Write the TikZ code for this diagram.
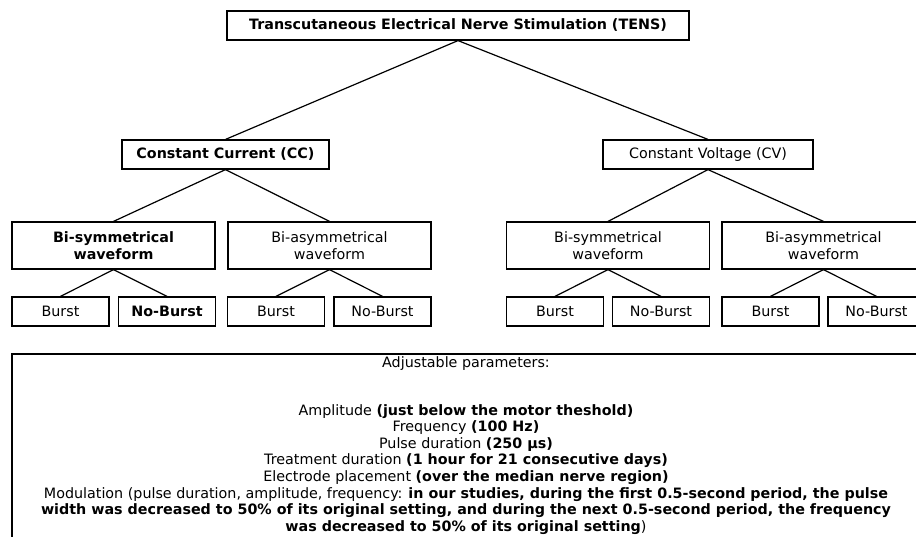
\documentclass[tikz,border=0pt]{standalone}
\usepackage{fontspec}
\setmainfont{DejaVu Sans}
\newcommand{\fsz}{\fontsize{14.3}{16.6}\selectfont}
\begin{document}
\begin{tikzpicture}[x=1pt,y=-1pt,
  box/.style={draw,line width=1.2pt,rectangle,inner sep=0pt,align=center,
    font=\fsz},
  onebox/.style={box,minimum height=29pt},
  wave/.style={box,minimum height=47pt,minimum width=203pt},
  leaf/.style={box,minimum height=29pt,minimum width=97pt},
  link/.style={line width=1.2pt}]
\useasboundingbox (0,0) rectangle (916,536);
\clip (0,0) rectangle (916,536);
% top
\node[onebox,minimum width=462pt,font=\fsz\bfseries] (tens) at (458,25.5) {Transcutaneous Electrical Nerve Stimulation (TENS)};
\node[onebox,minimum width=207pt,font=\fsz\bfseries] (cc) at (225.5,154.5) {Constant Current (CC)};
\node[onebox,minimum width=210pt] (cv) at (708,154.5) {Constant Voltage (CV)};
% waveforms
\node[wave,font=\fsz\bfseries] (ccs) at (113.5,245.5) {Bi-symmetrical\\waveform};
\node[wave] (cca) at (329.5,245.5) {Bi-asymmetrical\\waveform};
\node[wave] (cvs) at (608,245.5) {Bi-symmetrical\\waveform};
\node[wave] (cva) at (823.5,245.5) {Bi-asymmetrical\\waveform};
% leaves
\node[leaf] (ccsb) at (60.5,311.5) {Burst};
\node[leaf,font=\fsz\bfseries] (ccsn) at (167,311.5) {No-Burst};
\node[leaf] (ccab) at (276,311.5) {Burst};
\node[leaf] (ccan) at (382.5,311.5) {No-Burst};
\node[leaf] (cvsb) at (555,311.5) {Burst};
\node[leaf] (cvsn) at (661,311.5) {No-Burst};
\node[leaf] (cvab) at (770.5,311.5) {Burst};
\node[leaf] (cvan) at (876.5,311.5) {No-Burst};
% links
\draw[link] (tens.south) -- (cc.north);
\draw[link] (tens.south) -- (cv.north);
\draw[link] (cc.south) -- (ccs.north);
\draw[link] (cc.south) -- (cca.north);
\draw[link] (cv.south) -- (cvs.north);
\draw[link] (cv.south) -- (cva.north);
\draw[link] (ccs.south) -- (ccsb.north);
\draw[link] (ccs.south) -- (ccsn.north);
\draw[link] (cca.south) -- (ccab.north);
\draw[link] (cca.south) -- (ccan.north);
\draw[link] (cvs.south) -- (cvsb.north);
\draw[link] (cvs.south) -- (cvsn.north);
\draw[link] (cva.south) -- (cvab.north);
\draw[link] (cva.south) -- (cvan.north);
% parameters box
\draw[line width=1.2pt] (12,354) rectangle (940,560);
\node[align=center,inner sep=0pt,anchor=north,font=\fsz] (params) at (466,356.5) {%
Adjustable parameters:\\[31pt]
Amplitude \textbf{(just below the motor theshold)}\\
Frequency \textbf{(100 Hz)}\\
Pulse duration \textbf{(250 µs)}\\
Treatment duration \textbf{(1 hour for 21 consecutive days)}\\
Electrode placement \textbf{(over the median nerve region)}\\
Modulation (pulse duration, amplitude, frequency: \textbf{in our studies, during the first 0.5-second period, the pulse}\\
\textbf{width was decreased to 50\% of its original setting, and during the next 0.5-second period, the frequency}\\
\textbf{was decreased to 50\% of its original setting})};
\end{tikzpicture}
\end{document}
